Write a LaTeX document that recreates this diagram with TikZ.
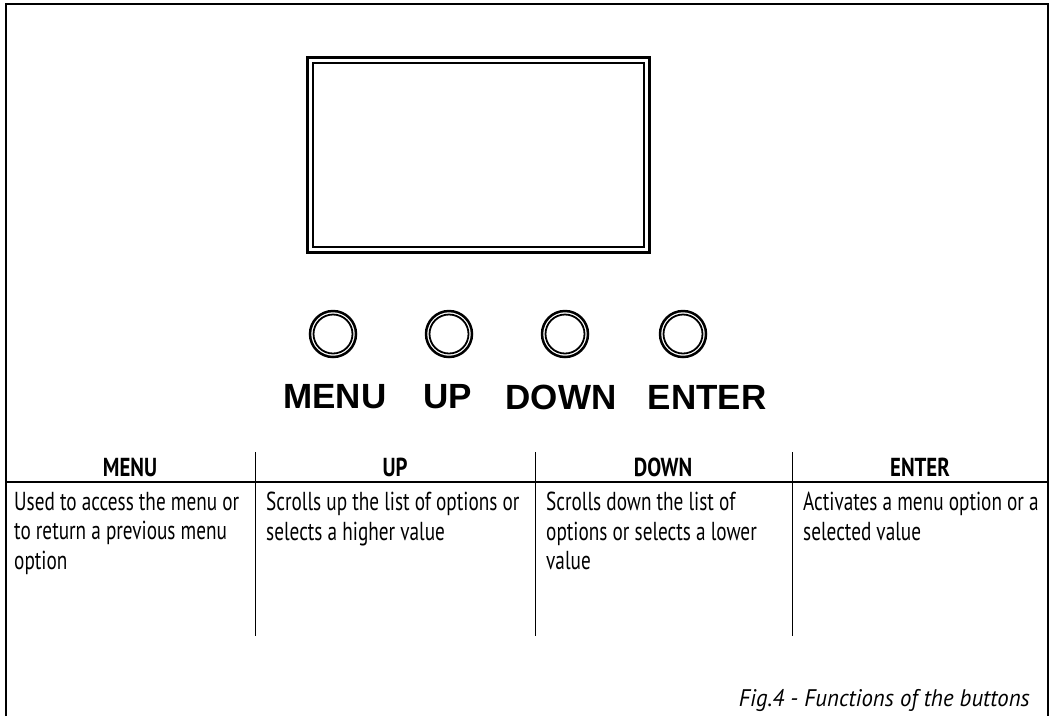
\documentclass[tikz,border=0pt]{standalone}
\usepackage{fontspec}
\setmainfont{Liberation Sans}
\newfontfamily\condfont[FakeStretch=0.74]{PT Sans}
\newfontfamily\condbold[FakeStretch=0.8]{PT Sans Bold}
\newfontfamily\capfont[FakeStretch=0.95]{PT Sans Italic}
\begin{document}
\begin{tikzpicture}[x=1pt,y=-1pt,
    btnlabel/.style={font=\fontsize{35}{40}\selectfont\bfseries, inner sep=0pt},
    headtext/.style={font=\condbold\fontsize{26}{30}\selectfont, inner sep=0pt},
    celltext/.style={font=\condfont\fontsize{26}{29.5}\selectfont, anchor=north west, align=left, inner sep=0pt}]
  \useasboundingbox (0,0) rectangle (1054,716);
  % outer frame, open at the bottom
  \draw[line width=1.5pt] (6,716) -- (6,4) -- (1048,4) -- (1048,716);
  % display
  \draw[line width=3pt] (307,57) rectangle (649,252);
  \draw[line width=2pt] (312.5,62.5) rectangle (643.5,246.5);
  % buttons and their labels
  \foreach \x/\name/\lx in {333/MENU/335, 449/UP/448, 565/DOWN/561, 683/ENTER/707} {
    \draw[line width=2.5pt] (\x,334) circle (23);
    \draw[line width=1.8pt] (\x,334) circle (19.5);
    \node[btnlabel] (lbl\name) at (\lx,397) {\name};
  }
  % table
  \draw[line width=2pt] (6,482) -- (1048,482);
  \foreach \x in {255,535,792}
    \draw[line width=1pt] (\x,452) -- (\x,636);
  \node[headtext] (hMenu) at (130,467) {MENU};
  \node[headtext] (hUp) at (395,467) {UP};
  \node[headtext] (hDown) at (663,467) {DOWN};
  \node[headtext] (hEnter) at (920,467) {ENTER};
  \node[celltext] (cMenu) at (14,492) {Used to access the menu or\\to return a previous menu\\option};
  \node[celltext] (cUp) at (266,492) {Scrolls up the list of options or\\selects a higher value};
  \node[celltext] (cDown) at (546,492) {Scrolls down the list of\\options or selects a lower\\value};
  \node[celltext] (cEnter) at (803,492) {Activates a menu option or a\\selected value};
  % caption
  \node[font=\capfont\fontsize{24}{28}\selectfont, anchor=base east, inner sep=0pt] (caption) at (1030,706) {Fig.4 - Functions of the buttons};
\end{tikzpicture}
\end{document}
